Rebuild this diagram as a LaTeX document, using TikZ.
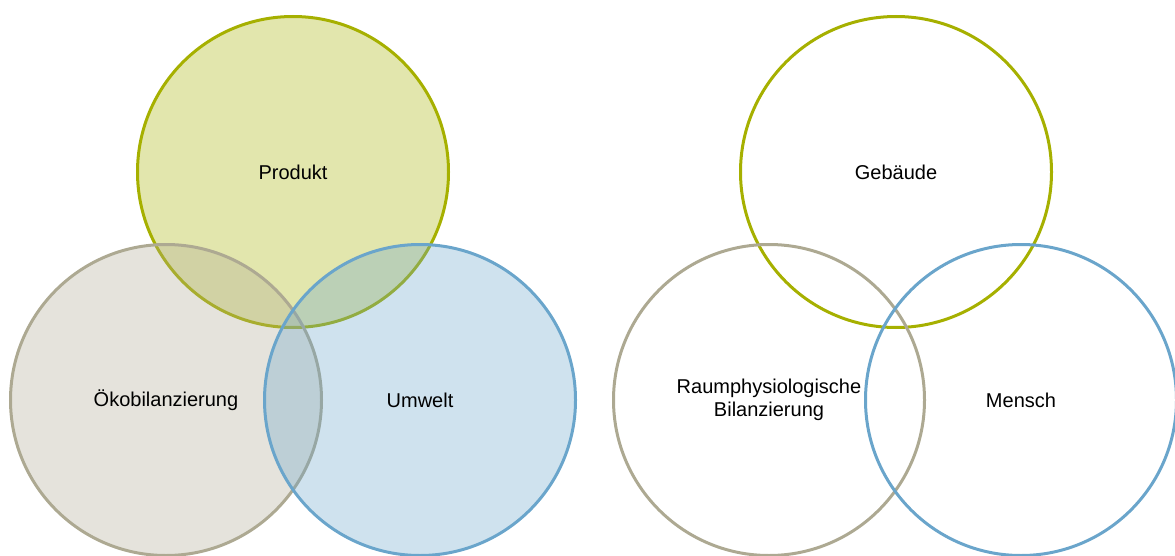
\documentclass[tikz,border=0pt]{standalone}
\usepackage{fontspec}
\setmainfont{Liberation Sans}
\definecolor{olive}{HTML}{A6B000}
\definecolor{taupe}{HTML}{ADA992}
\definecolor{skyb}{HTML}{6AA5CB}
\begin{document}
\begin{tikzpicture}[x=1pt,y=-1pt,
  venn/.style={circle,inner sep=0pt,minimum size=311pt,line width=3pt,align=center,
    font=\fontsize{20}{23}\selectfont,text opacity=1},
  vfill/.style={venn,draw=#1,fill=#1,fill opacity=0.32},
  vopen/.style={venn,draw=#1}]
\useasboundingbox (0,0) rectangle (1175,556);
\node[vfill=olive] (produkt) at (293,172) {Produkt};
\node[vfill=taupe] (oeko) at (166,400) {Ökobilanzierung};
\node[vfill=skyb] (umwelt) at (420,400) {Umwelt};
\node[vopen=olive] (gebaeude) at (896,172) {Gebäude};
\node[vopen=taupe] (raum) at (769,400) {Raumphysiologische\\Bilanzierung};
\node[vopen=skyb] (mensch) at (1021,400) {Mensch};
\end{tikzpicture}
\end{document}
